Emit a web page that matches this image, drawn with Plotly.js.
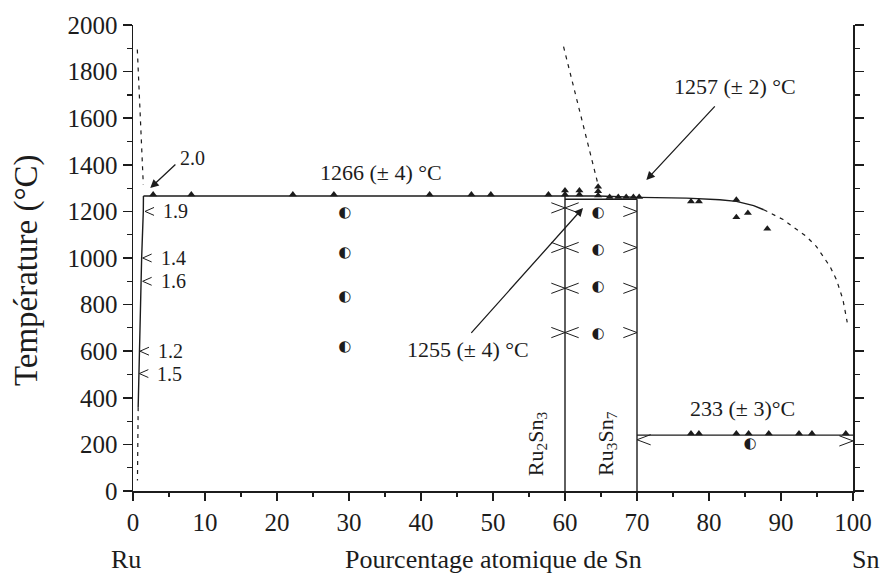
<!DOCTYPE html>
<html>
<head>
<meta charset="utf-8">
<script src="https://cdn.plot.ly/plotly-3.0.1.min.js"></script>
<style>html,body{margin:0;padding:0;background:#fff;}#chart{width:880px;height:576px;}</style>
</head>
<body>
<div id="chart"></div>
<script>
// ---------- data ----------
// upper liquidus / peritectic line (solid)
const liqX = [1.45, 64.6, 70.4, 76.9, 81.5, 83.8, 86.2, 87.6];
const liqT = [1266, 1266, 1260, 1257, 1250, 1243, 1225, 1207];
// dashed continuation of liquidus towards Sn
const liqDashX = [87.6, 88.5, 90.3, 91.7, 93.5, 94.9, 95.9, 96.8, 97.7, 98.6, 99.2];
const liqDashT = [1207, 1193, 1165, 1133, 1093, 1050, 1007, 964, 907, 822, 724];
// eutectic line between Ru2Sn3 and Ru3Sn7
const eutX = [60, 70];
const eutT = [1252, 1252];
// low-temperature line (233 °C)
const lowX = [70, 100];
const lowT = [240, 240];
// compound vertical lines
const ru2sn3X = [60, 60];
const ru2sn3T = [0, 1266];
const ru3sn7X = [70, 70];
const ru3sn7T = [0, 1252];
// Ru solvus (solid + dashed)
const solvX = [1.45, 1.43, 1.2, 1.05, 0.88, 0.74, 0.72];
const solvT = [1266, 1200, 1000, 800, 600, 500, 360];
const solvDashX = [0.72, 0.62];
const solvDashT = [360, 45];
// dashed liquidus near Ru
const ruLiqX = [0.6, 1.43];
const ruLiqT = [1895, 1315];
// dashed liquidus near Ru2Sn3
const midLiqX = [59.8, 64.6];
const midLiqT = [1907, 1314];
// thermal analysis points (triangles)
const triX = [2.8, 8.1, 22.2, 27.9, 41.2, 47.0, 49.7, 57.7, 60.0, 60.0, 62.0, 62.0, 64.6, 64.6, 64.6,
              66.2, 67.4, 68.5, 69.5, 70.3,
              77.5, 78.6, 83.8, 83.8, 85.4, 88.1,
              77.5, 78.6, 83.8, 85.5, 88.3, 92.5, 94.3, 99.0];
const triT = [1272, 1272, 1272, 1272, 1272, 1272, 1272, 1272, 1272, 1290, 1272, 1290, 1268, 1286, 1306,
              1262, 1262, 1262, 1262, 1262,
              1243, 1243, 1250, 1175, 1193, 1126,
              247, 247, 247, 247, 247, 247, 247, 247];
// two-phase annealed samples (half circles)
const halfX = [29.4, 29.4, 29.4, 29.4, 64.6, 64.6, 64.6, 64.6, 85.7];
const halfT = [1194, 1019, 830, 616, 1193, 1033, 873, 672, 200];
// phase-boundary chevrons
const chevX = [60, 60, 60, 60, 60, 60, 60, 60, 70, 70, 70, 70, 70, 100];
const chevT = [1215, 1045, 870, 680, 1215, 1045, 870, 680, 1200, 1045, 870, 680, 220, 215];
const chevDir = ['>', '>', '>', '>', '<', '<', '<', '<', '>', '>', '>', '>', '<', '>'];
// Ru solubility points
const ruChevX = [1.67, 1.34, 1.34, 0.97, 0.88];
const ruChevT = [1200, 1000, 900, 600, 504];
const ruChevLabel = ['1.9', '1.4', '1.6', '1.2', '1.5'];
// axes
const xTicks = [0, 10, 20, 30, 40, 50, 60, 70, 80, 90, 100];
const yTicks = [0, 200, 400, 600, 800, 1000, 1200, 1400, 1600, 1800, 2000];

// ---------- styles ----------
const INK = '#1c1c1c';
const SERIF = 'Liberation Serif';

function chevrons(xs, ts, dirs, dx, dy) {
  const X = [], Y = [];
  for (let i = 0; i < xs.length; i++) {
    const s = dirs[i] === '>' ? -1 : 1;
    X.push(xs[i] + s * dx, xs[i], xs[i] + s * dx, null);
    Y.push(ts[i] + dy, ts[i], ts[i] - dy, null);
  }
  return {X, Y};
}
const cm = chevrons(chevX, chevT, chevDir, 1.9, 22);
const cr = chevrons(ruChevX, ruChevT, ruChevX.map(() => '<'), 1.25, 17);

const lineStyle = {color: INK, width: 1.4};
const dashStyle = {color: INK, width: 1.2, dash: '4px,5px'};

const traces = [
  {x: liqX, y: liqT, mode: 'lines', line: lineStyle},
  {x: liqDashX, y: liqDashT, mode: 'lines', line: dashStyle},
  {x: eutX, y: eutT, mode: 'lines', line: lineStyle},
  {x: lowX, y: lowT, mode: 'lines', line: lineStyle},
  {x: ru2sn3X, y: ru2sn3T, mode: 'lines', line: lineStyle},
  {x: ru3sn7X, y: ru3sn7T, mode: 'lines', line: lineStyle},
  {x: solvX, y: solvT, mode: 'lines', line: lineStyle},
  {x: solvDashX, y: solvDashT, mode: 'lines', line: dashStyle},
  {x: ruLiqX, y: ruLiqT, mode: 'lines', line: dashStyle},
  {x: midLiqX, y: midLiqT, mode: 'lines', line: dashStyle},
  {x: cm.X, y: cm.Y, mode: 'lines', line: {color: INK, width: 1}, connectgaps: false},
  {x: cr.X, y: cr.Y, mode: 'lines', line: {color: INK, width: 1}, connectgaps: false},
  {x: triX, y: triT, mode: 'markers', marker: {symbol: 'triangle-up', size: 7, color: INK}},
  {x: halfX, y: halfT, mode: 'text', text: halfX.map(() => '\u25D0'),
   textposition: 'middle center', textfont: {family: 'DejaVu Sans', size: 15, color: INK}},
  {x: [null], y: [null], yaxis: 'y2', mode: 'lines'}
];

const annotations = [];
// Ru-side labels
ruChevLabel.forEach((t, i) => annotations.push({
  x: ruChevX[i], y: ruChevT[i], xref: 'x', yref: 'y', text: t, showarrow: false,
  xanchor: 'left', yanchor: 'middle', xshift: 16, font: {family: SERIF, size: 20, color: INK}
}));
// arrows
function arrow(x, y, ax, ay) {
  return {x, y, ax, ay, xref: 'x', yref: 'y', axref: 'x', ayref: 'y', text: '', showarrow: true,
          arrowhead: 2, arrowsize: 1.3, arrowwidth: 1.3, arrowcolor: INK, standoff: 0, startstandoff: 0};
}
annotations.push(arrow(2.4, 1300, 6.1, 1407));
annotations.push(arrow(71.3, 1335, 81.0, 1657));
annotations.push(arrow(62.5, 1215, 46.8, 672));
// texts
function label(x, y, t, size) {
  return {x, y, xref: 'x', yref: 'y', text: t, showarrow: false, xanchor: 'center', yanchor: 'middle',
          font: {family: SERIF, size: size, color: INK}};
}
annotations.push(label(8.2, 1430, '2.0', 20));
annotations.push(label(34.4, 1367, '1266 (\u00B1 4) \u00B0C', 22));
annotations.push(label(83.6, 1735, '1257 (\u00B1 2) \u00B0C', 22));
annotations.push(label(46.5, 606, '1255 (\u00B1 4) \u00B0C', 22));
annotations.push(label(84.7, 355, '233 (\u00B1 3)\u00B0C', 22));
// compound labels (rotated)
annotations.push({x: 56.1, y: 205, xref: 'x', yref: 'y', text: 'Ru<sub>2</sub>Sn<sub>3</sub>', textangle: -90,
  showarrow: false, xanchor: 'center', yanchor: 'middle', font: {family: SERIF, size: 22, color: INK}});
annotations.push({x: 65.8, y: 205, xref: 'x', yref: 'y', text: 'Ru<sub>3</sub>Sn<sub>7</sub>', textangle: -90,
  showarrow: false, xanchor: 'center', yanchor: 'middle', font: {family: SERIF, size: 22, color: INK}});
// axis titles and end labels
annotations.push({xref: 'paper', yref: 'paper', x: -0.148, y: 0.475, text: 'Temp\u00E9rature (\u00B0C)', textangle: -90,
  showarrow: false, xanchor: 'center', yanchor: 'middle', font: {family: SERIF, size: 33, color: INK}});
annotations.push({xref: 'paper', yref: 'paper', x: 0.50, y: -0.147, text: 'Pourcentage atomique de Sn',
  showarrow: false, xanchor: 'center', yanchor: 'middle', font: {family: SERIF, size: 26, color: INK}});
annotations.push({xref: 'paper', yref: 'paper', x: -0.01, y: -0.147, text: 'Ru',
  showarrow: false, xanchor: 'center', yanchor: 'middle', font: {family: SERIF, size: 26, color: INK}});
annotations.push({xref: 'paper', yref: 'paper', x: 1.018, y: -0.147, text: 'Sn',
  showarrow: false, xanchor: 'center', yanchor: 'middle', font: {family: SERIF, size: 26, color: INK}});

const axisFont = {family: SERIF, size: 25, color: INK};
const layout = {
  width: 880, height: 576,
  margin: {l: 133, r: 27, t: 25, b: 85},
  paper_bgcolor: '#fff', plot_bgcolor: '#fff',
  showlegend: false,
  font: {family: SERIF, color: INK},
  xaxis: {
    range: [0, 100], tickvals: xTicks, ticktext: xTicks.map(String),
    ticks: 'outside', ticklen: 8, tickwidth: 1.5, tickcolor: INK,
    minor: {dtick: 5, ticks: 'outside', ticklen: 4, tickwidth: 1.2, tickcolor: INK, showgrid: false},
    showline: true, linewidth: 1.5, linecolor: INK, showgrid: false, zeroline: false,
    tickfont: axisFont, fixedrange: true
  },
  yaxis: {
    range: [0, 2000], tickvals: yTicks, ticktext: yTicks.map(String),
    ticks: 'outside', ticklen: 9, tickwidth: 1.5, tickcolor: INK,
    minor: {dtick: 100, ticks: 'outside', ticklen: 5, tickwidth: 1.2, tickcolor: INK, showgrid: false},
    showline: true, linewidth: 1.5, linecolor: INK, showgrid: false, zeroline: false,
    tickfont: axisFont, fixedrange: true
  },
  yaxis2: {
    range: [0, 2000], overlaying: 'y', side: 'right', dtick: 200,
    ticks: 'outside', ticklen: 9, tickwidth: 1.5, tickcolor: INK,
    minor: {dtick: 100, ticks: 'outside', ticklen: 5, tickwidth: 1.2, tickcolor: INK, showgrid: false},
    showline: true, linewidth: 1.5, linecolor: INK, showgrid: false, zeroline: false,
    showticklabels: false, fixedrange: true
  },
  annotations: annotations
};

Plotly.newPlot('chart', traces, layout, {staticPlot: true, displayModeBar: false});
</script>
</body>
</html>
